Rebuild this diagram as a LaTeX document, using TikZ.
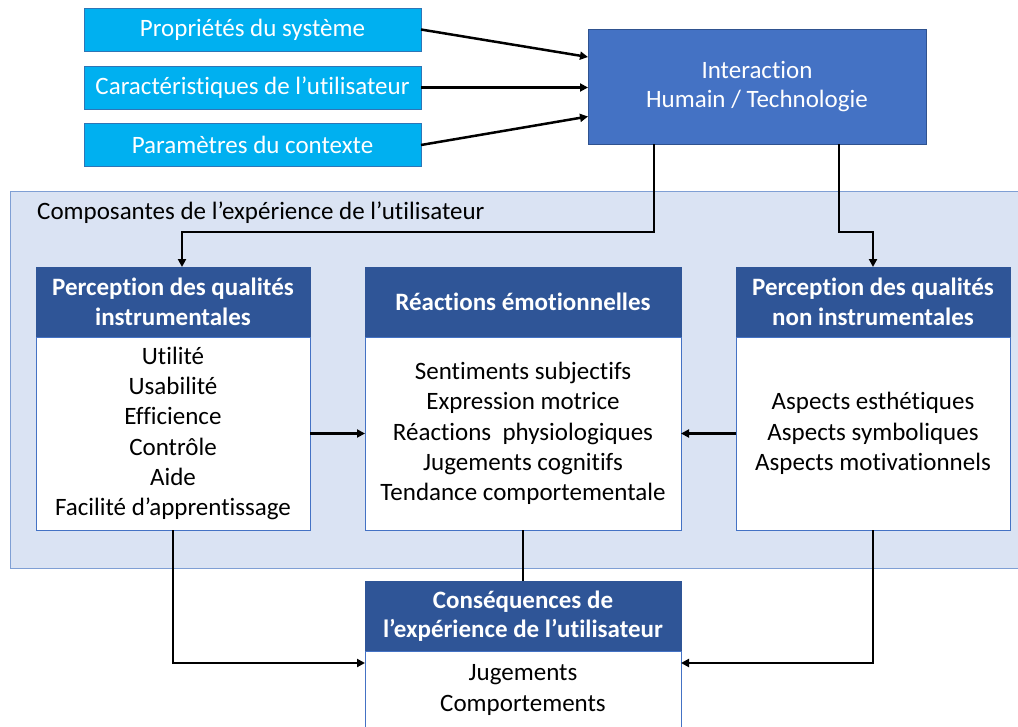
\documentclass[tikz,border=0pt]{standalone}
\usepackage{fontspec}
\setmainfont{Carlito}[Ligatures=NoCommon]
\usetikzlibrary{arrows.meta}
\definecolor{cyanfill}{HTML}{00B0F0}
\definecolor{cyanline}{HTML}{2E75B6}
\definecolor{interfill}{HTML}{4472C4}
\definecolor{interline}{HTML}{2F528F}
\definecolor{hdrfill}{HTML}{2F5597}
\definecolor{contfill}{HTML}{DAE3F3}
\definecolor{contline}{HTML}{7F9FD4}
\newcommand{\fsz}{\fontsize{25}{30}\selectfont}
\tikzset{
  cyanbox/.style={rectangle, fill=cyanfill, draw=cyanline, line width=0.6pt, text=white,
    minimum width=337pt, minimum height=43pt, inner sep=0pt, outer sep=0pt, font=\fsz},
  interbox/.style={rectangle, fill=interfill, draw=interline, line width=0.6pt, text=white,
    minimum width=338pt, minimum height=115pt, inner sep=0pt, outer sep=0pt, align=center,
    font=\fontsize{25}{29.5}\selectfont},
  hdrbox/.style={rectangle, fill=hdrfill, draw=hdrfill, line width=0.6pt, text=white,
    minimum height=70pt, inner sep=0pt, outer sep=0pt, align=center,
    font=\fontsize{25}{29.5}\selectfont\bfseries},
  bodybox/.style={rectangle, fill=white, draw=interfill, line width=0.8pt, text=black,
    inner sep=0pt, outer sep=0pt, align=center, font=\fontsize{25}{30.3}\selectfont},
  arr/.style={line width=2.5pt, -{Triangle[length=8pt,width=8pt]}},
  plainline/.style={line width=2.5pt}
}
\begin{document}
\begin{tikzpicture}[x=1pt,y=-1pt]
\useasboundingbox (0,0) rectangle (1018,726);
\clip (0,0) rectangle (1018,726);
\fill[white] (0,0) rectangle (1018,726);
% container
\draw[fill=contfill, draw=contline, line width=1pt] (10,191) rectangle (1030,568);
\node[anchor=west, font=\fsz, inner sep=0pt] (contlabel) at (37,212.5) {Composantes de l’expérience de l’utilisateur};
% top boxes
\node[cyanbox] (p1) at (252.5,29.5) {Propriétés du système};
\node[cyanbox] (p2) at (252.5,87.5) {Caractéristiques de l’utilisateur};
\node[cyanbox] (p3) at (252.5,145) {Paramètres du contexte};
\node[interbox] (inter) at (757,86.5) {\raisebox{-2pt}{\parbox{300pt}{\centering Interaction\\Humain / Technologie}}};
% component boxes
\node[hdrbox, minimum width=274pt] (instH) at (173,302) {Perception des qualités\\instrumentales};
\node[bodybox, minimum width=274pt, minimum height=193pt] (instB) at (173,433.5) {Utilité\\Usabilité\\Efficience\\Contrôle\\Aide\\Facilité d’apprentissage};
\node[hdrbox, minimum width=316pt] (emoH) at (523,302) {Réactions émotionnelles};
\node[bodybox, minimum width=316pt, minimum height=193pt] (emoB) at (523,433.5) {Sentiments subjectifs\\Expression motrice\\Réactions\ \ physiologiques\\Jugements cognitifs\\Tendance comportementale};
\node[hdrbox, minimum width=274pt] (nonH) at (873,302) {Perception des qualités\\non instrumentales};
\node[bodybox, minimum width=274pt, minimum height=193pt] (nonB) at (873,433.5) {Aspects esthétiques\\Aspects symboliques\\Aspects motivationnels};
% consequences
\node[hdrbox, minimum width=316pt] (consH) at (523,616) {Conséquences de\\l’expérience de l’utilisateur};
\node[bodybox, minimum width=316pt, minimum height=78pt] (consB) at (523,690) {Jugements\\Comportements};
% connectors
\draw[arr] (p1.east) -- ([yshift=29.5pt]inter.west);
\draw[arr] (p2.east) -- (p2.east -| inter.west);
\draw[arr] (p3.east) -- ([yshift=-30pt]inter.west);
\draw[arr] ([xshift=-103pt]inter.south) -- ++(0,88) -| ([xshift=9pt]instH.north);
\draw[arr] ([xshift=82pt]inter.south) -- ++(0,88) -| (nonH.north);
\draw[arr] (instB.east) -- (emoB.west);
\draw[arr] (nonB.west) -- (emoB.east);
\draw[plainline] (emoB.south) -- (consH.north);
\draw[arr] (instB.south) |- ([yshift=27pt]consB.west);
\draw[arr] (nonB.south) |- ([yshift=27pt]consB.east);
\end{tikzpicture}
\end{document}
